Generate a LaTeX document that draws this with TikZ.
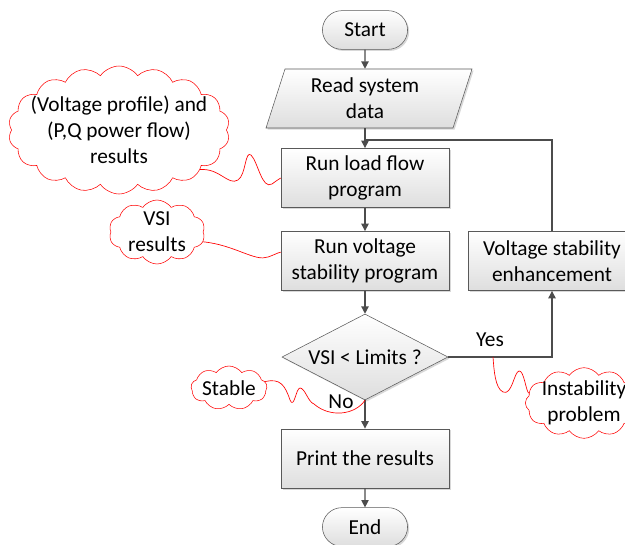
\documentclass[tikz,border=0pt]{standalone}
\usepackage{fontspec}
\setmainfont{Carlito}
\usetikzlibrary{shapes.geometric,shapes.misc,shapes.symbols,arrows.meta,shadows}
\begin{document}
\begin{tikzpicture}[x=0.75pt,y=-0.75pt,
  every node/.style = {font=\fontsize{16}{19.5}\selectfont,align=center},
  boxfill/.style = {draw=black!65,top color=white,bottom color=black!13,
    drop shadow={shadow xshift=1.2pt,shadow yshift=-1.2pt,fill=black!30}},
  proc/.style = {boxfill,minimum width=126pt,minimum height=44.5pt,inner sep=2pt},
  term/.style = {boxfill,rounded rectangle,minimum width=70.5pt,minimum height=29pt},
  note/.style = {cloud,cloud ignores aspect,cloud puff arc=110,draw=red,fill=white,
    inner sep=0pt},
  flow/.style = {draw=black!70,line width=0.9pt,-{Triangle[length=5.5pt,width=5.5pt]}},
  link/.style = {draw=black!70,line width=0.9pt},
  wiggle/.style = {draw=red,line width=0.5pt}]
   \useasboundingbox (0,0) rectangle (625,544);
   % main chain
   \node[term] (start) at (365,30) {Start};
   \draw[boxfill] (285,69) -- (472,69) -- (453,128) -- (266,128) -- cycle;
   \node[minimum width=126pt,minimum height=44.25pt] (data) at (365,98.5) {Read system\\data};
   \node[proc] (load) at (365,178) {Run load flow\\program};
   \node[proc] (vsp) at (365,261) {Run voltage\\stability program};
   \node[proc] (vse) at (552,261) {Voltage stability\\enhancement};
   \node[boxfill,diamond,aspect=1.93,minimum width=124.5pt,minimum height=64.5pt,
         inner sep=0pt] (dec) at (365,357) {VSI < Limits ?};
   \node[proc] (print) at (365,458.5) {Print the results};
   \node[term] (stop) at (365,527) {End};
   \coordinate (join) at (365,140);
   \draw[flow] (start) -- (data);
   \draw[flow] (data) -- (load);
   \draw[flow] (load) -- (vsp);
   \draw[flow] (vsp) -- (dec);
   \draw[flow] (dec) -- (print);
   \draw[flow] (print) -- (stop);
   \draw[flow] (dec.east) -| (vse.south);
   \draw[link] (vse.north) |- (join);
   \node (yes) at (490,340) {Yes};
   \node (no) at (341,402) {No};
   % clouds
   \node[note,cloud puffs=18,minimum width=166pt,minimum height=96pt,
         label={[name=flowtext]center:(Voltage profile) and\\(P,Q power flow)\\results}]
        (flowcloud) at (119,130) {};
   \node[note,cloud puffs=10,minimum width=72pt,minimum height=48pt,
         label={[name=vsitext]center:VSI\\results}] (vsicloud) at (157,232) {};
   \node[note,cloud puffs=9,minimum width=57pt,minimum height=33pt,
         label={[name=stabletext]center:Stable}] (stablecloud) at (229,388) {};
   \node[note,cloud puffs=12,minimum width=88pt,minimum height=53pt,
         label={[name=insttext]center:Instability\\problem}] (instcloud) at (584,403) {};
   \coordinate (yesnote) at (493,357);
   \draw[wiggle] (flowcloud.-26) .. controls (220,168) and (228,186) .. (238,180)
         .. controls (246,175) and (245,150) .. (251,155)
         .. controls (258,162) and (262,190) .. (272,184)
         .. controls (276,181) and (279,179) .. (load.west);
   \draw[wiggle] (vsicloud.-12) .. controls (235,245) and (255,262) .. (268,257)
         .. controls (274,255) and (277,253) .. (vsp.174);
   \draw[wiggle] (stablecloud.10) .. controls (280,378) and (285,385) .. (290,400)
         .. controls (294,410) and (296,388) .. (300,388)
         .. controls (305,388) and (308,402) .. (314,404)
         .. controls (330,418) and (355,415) .. (dec.south);
   \draw[wiggle] (yesnote) .. controls (494,370) and (495,388) .. (503,392)
         .. controls (512,396) and (514,372) .. (519,371)
         .. controls (524,370) and (526,392) .. (instcloud.170);
\end{tikzpicture}
\end{document}
